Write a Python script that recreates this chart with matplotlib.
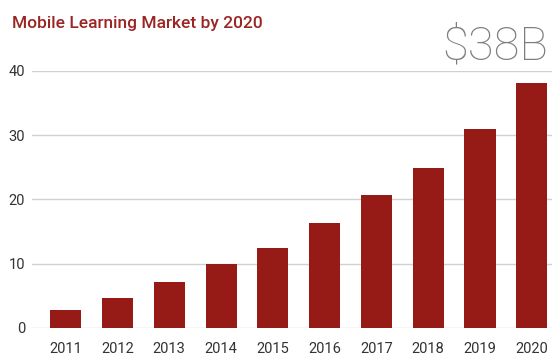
import matplotlib
matplotlib.use("Agg")
import matplotlib.pyplot as plt
import numpy as np

years = ['2011', '2012', '2013', '2014', '2015', '2016', '2017', '2018', '2019', '2020']
market = [2.8, 4.7, 7.1, 9.9, 12.4, 16.3, 20.7, 24.9, 31.0, 38.1]
y_ticks = [0, 10, 20, 30, 40]

bar_color = '#961a16'
title_color = '#9b2523'

plt.rcParams['font.family'] = ['Roboto', 'DejaVu Sans']

fig = plt.figure(figsize=(5.52, 3.56), dpi=100)
ax = fig.add_axes([0.058, 0.0787, 0.942, 0.722])

x = np.arange(len(years))
ax.bar(x, market, width=0.6, color=bar_color, zorder=3)

ax.set_xlim(-0.65, 9.39)
ax.set_ylim(0, 40)
ax.set_yticks(y_ticks)
ax.set_xticks(x)
ax.set_xticklabels(years)
ax.yaxis.grid(True, color='#d0d0d0', linewidth=1.0, zorder=0)
ax.tick_params(axis='both', length=0, labelsize=10.5, colors='#333333')
ax.tick_params(axis='x', pad=10)
ax.tick_params(axis='y', pad=5)
for s in ax.spines.values():
    s.set_visible(False)

fig.text(0.022, 0.935, 'Mobile Learning Market by 2020', color=title_color,
         fontsize=12.5, fontweight='medium', ha='left', va='center')
fig.text(0.993, 0.832, '$38B', color='#7d7d7d', fontsize=34,
         fontweight='light', ha='right', va='baseline')

fig.savefig('out.png', dpi=100)
